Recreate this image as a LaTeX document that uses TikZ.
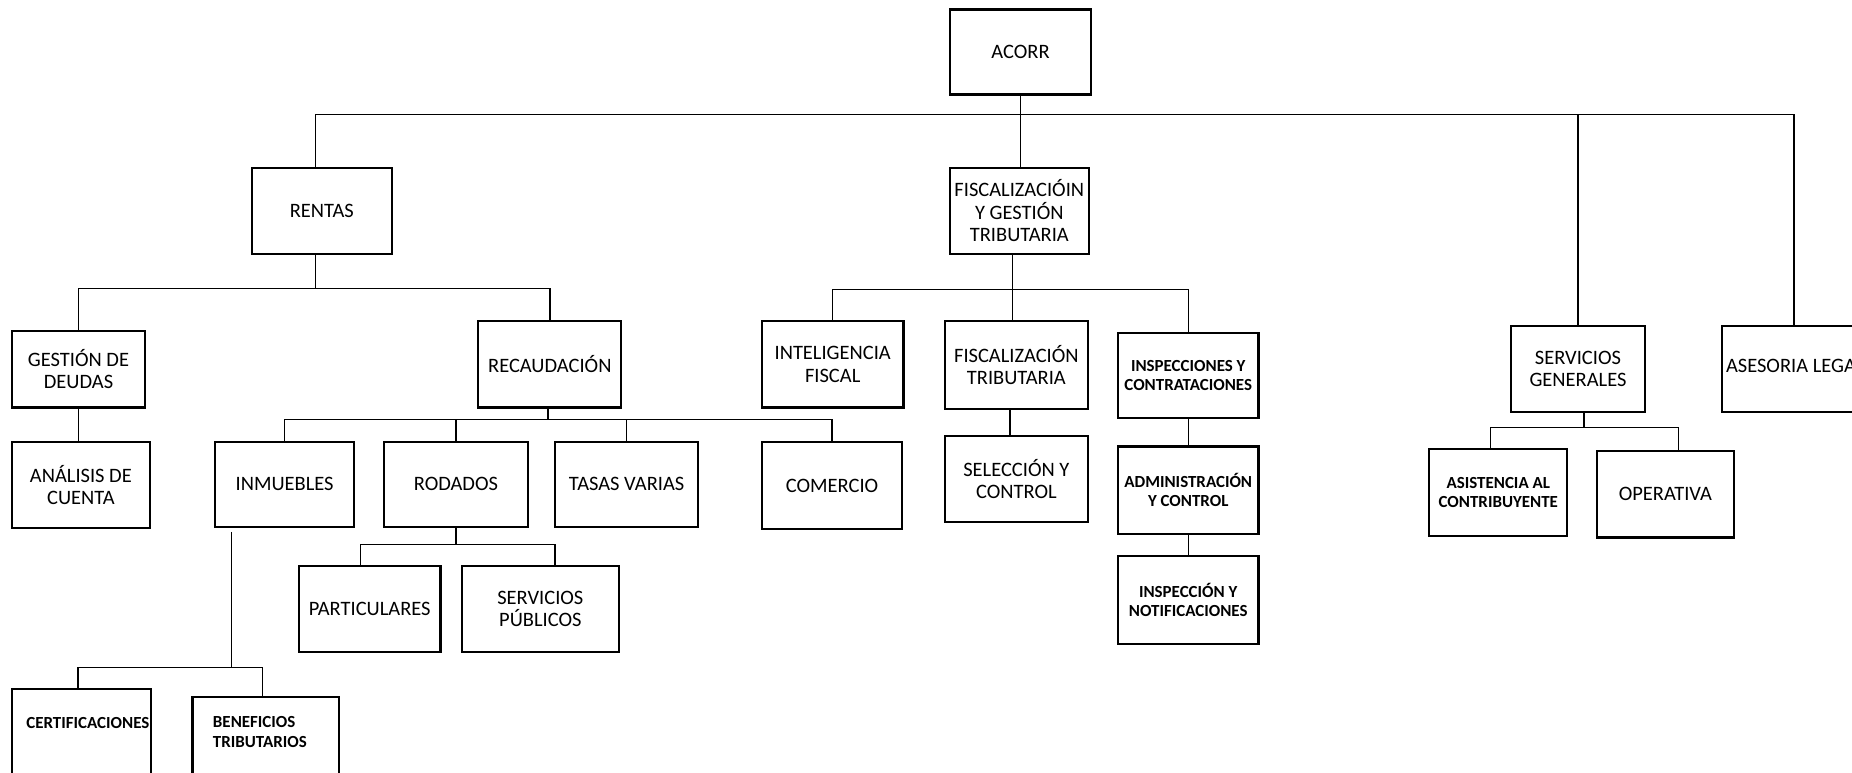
\documentclass[tikz,border=0pt]{standalone}
\usepackage{fontspec}
\setmainfont{Carlito}
\newcommand\mainf{\fontsize{10.4}{11.4}\selectfont}
\newcommand\smallf{\fontsize{8.6}{9.4}\selectfont\bfseries}
\begin{document}
\begin{tikzpicture}[x=0.6pt,y=-0.6pt,
  box/.style={draw, line width=1.1pt, rectangle, inner sep=0.5pt, align=center, font=\mainf},
  small/.style={font=\smallf},
  wh/.style 2 args={minimum width=#1*0.6pt, minimum height=#2*0.6pt},
  link/.style={draw, line width=0.7pt},
  lbl/.style={inner sep=0pt, align=left, font=\mainf}]
\fill[white] (0,0) rectangle (1568,654);
\useasboundingbox (0,0) rectangle (1568,654);

% level 0 / 1
\node[box, wh={120}{72}] (acorr) at (864,44) {ACORR};
\node[box, wh={119}{73}] (rentas) at (272.5,178.5) {RENTAS};
\node[box, wh={118}{73}] (fisc) at (863,178.5) {FISCALIZACIÓIN\\Y GESTIÓN\\TRIBUTARIA};
\node[box, wh={114}{73}] (servgen) at (1336,312.5) {SERVICIOS\\GENERALES};
\node[box, wh={182}{73}] (asesoria) at (1549,312.5) {};
\node[lbl, anchor=west] (asesoriatxt) at (1461,310) {ASESORIA LEGAL};

% rentas branch
\node[box, wh={113}{65}] (gestion) at (66.5,312.5) {GESTIÓN DE\\DEUDAS};
\node[box, wh={121}{73}] (recaud) at (465.5,308.5) {RECAUDACIÓN};
\node[box, wh={117}{73}] (analisis) at (68.5,410.5) {ANÁLISIS DE\\CUENTA};
\node[box, wh={118}{72}] (inmuebles) at (241,410) {INMUEBLES};
\node[box, wh={122}{72}] (rodados) at (386,410) {RODADOS};
\node[box, wh={121}{72}] (tasas) at (530.5,410) {TASAS VARIAS};
\node[box, wh={119}{74}] (comercio) at (704.5,411) {COMERCIO};
\node[box, wh={120}{73}] (partic) at (313,515.5) {PARTICULARES};
\node[box, wh={133}{73}] (servpub) at (457.5,515.5) {SERVICIOS\\PÚBLICOS};
\node[box, wh={118}{117}] (cert) at (69,641.5) {};
\node[lbl, font=\smallf, anchor=west] (certtxt) at (22,612) {CERTIFICACIONES};
\node[box, wh={124}{110}] (benef) at (225,645) {};
\node[lbl, font={\fontsize{8.6}{10.2}\selectfont\bfseries}, anchor=west] (beneftxt) at (180,619.5) {BENEFICIOS\\TRIBUTARIOS};

% fiscalizacion branch
\node[box, wh={120}{73}] (intel) at (705,308.5) {INTELIGENCIA\\FISCAL};
\node[box, wh={121}{74}] (fisctrib) at (860.5,309) {FISCALIZACIÓN\\TRIBUTARIA};
\node[box, small, wh={119}{72}] (inspcont) at (1006,318) {INSPECCIONES Y\\CONTRATACIONES};
\node[box, wh={121}{73}] (selec) at (860.5,405.5) {SELECCIÓN Y\\CONTROL};
\node[box, small, wh={119}{74}] (admin) at (1006,415) {ADMINISTRACIÓN\\Y CONTROL};
\node[box, small, wh={119}{74}] (inspnot) at (1006,508) {INSPECCIÓN Y\\NOTIFICACIONES};

% servicios generales branch
\node[box, small, wh={117}{74}] (asist) at (1268.5,417) {ASISTENCIA AL\\CONTRIBUYENTE};
\node[box, wh={116}{73}] (operativa) at (1410,418.5) {OPERATIVA};

% junction coordinates
\coordinate (r1) at (267,97);
\coordinate (r2) at (1519,97);
\coordinate (rb) at (267,244);
\coordinate (cb) at (464,355);
\coordinate (db) at (386,461);
\coordinate (d1) at (305,461);
\coordinate (d2) at (470,461);
\coordinate (ib) at (196,565);
\coordinate (i1) at (66,565);
\coordinate (i2) at (222,565);
\coordinate (fb) at (857,245);
\coordinate (fs) at (855,0);
\coordinate (sb) at (1341,362);
\coordinate (s1) at (1262,362);
\coordinate (s2) at (1421,362);

% connectors
\draw[link] (rentas.north -| r1) -- (r1) -- (r2) -- (asesoria.north -| r2);
\draw[link] (acorr.south) -- (acorr.south |- fisc.north);
\draw[link] (servgen.north |- r1) -- (servgen.north);

\draw[link] (rentas.south -| rb) -- (rb);
\draw[link] (gestion.north) |- (rb) -| (recaud.north);
\draw[link] (gestion.south) -- (gestion.south |- analisis.north);

\draw[link] (recaud.south -| cb) -- (cb);
\draw[link] (inmuebles.north) -- (inmuebles.north |- cb) -- (comercio.north |- cb) -- (comercio.north);
\draw[link] (rodados.north) -- (rodados.north |- cb);
\draw[link] (tasas.north) -- (tasas.north |- cb);

\draw[link] (rodados.south) -- (db);
\draw[link] (partic.north -| d1) -- (d1) -- (d2) -- (servpub.north -| d2);

\draw[link] ([yshift=-2pt]inmuebles.south -| ib) -- (ib);
\draw[link] (cert.north -| i1) -- (i1) -- (i2) -- (benef.north -| i2);

\draw[link] (fisc.south -| fb) -- (fisctrib.north -| fb);
\draw[link] (intel.north) |- (fb) -| (inspcont.north);
\draw[link] (fisctrib.south -| fs) -- (selec.north -| fs);
\draw[link] (inspcont.south) -- (admin.north);
\draw[link] (admin.south) -- (inspnot.north);

\draw[link] (servgen.south -| sb) -- (sb);
\draw[link] (asist.north -| s1) -- (s1) -- (s2) -- (operativa.north -| s2);
\end{tikzpicture}
\end{document}
